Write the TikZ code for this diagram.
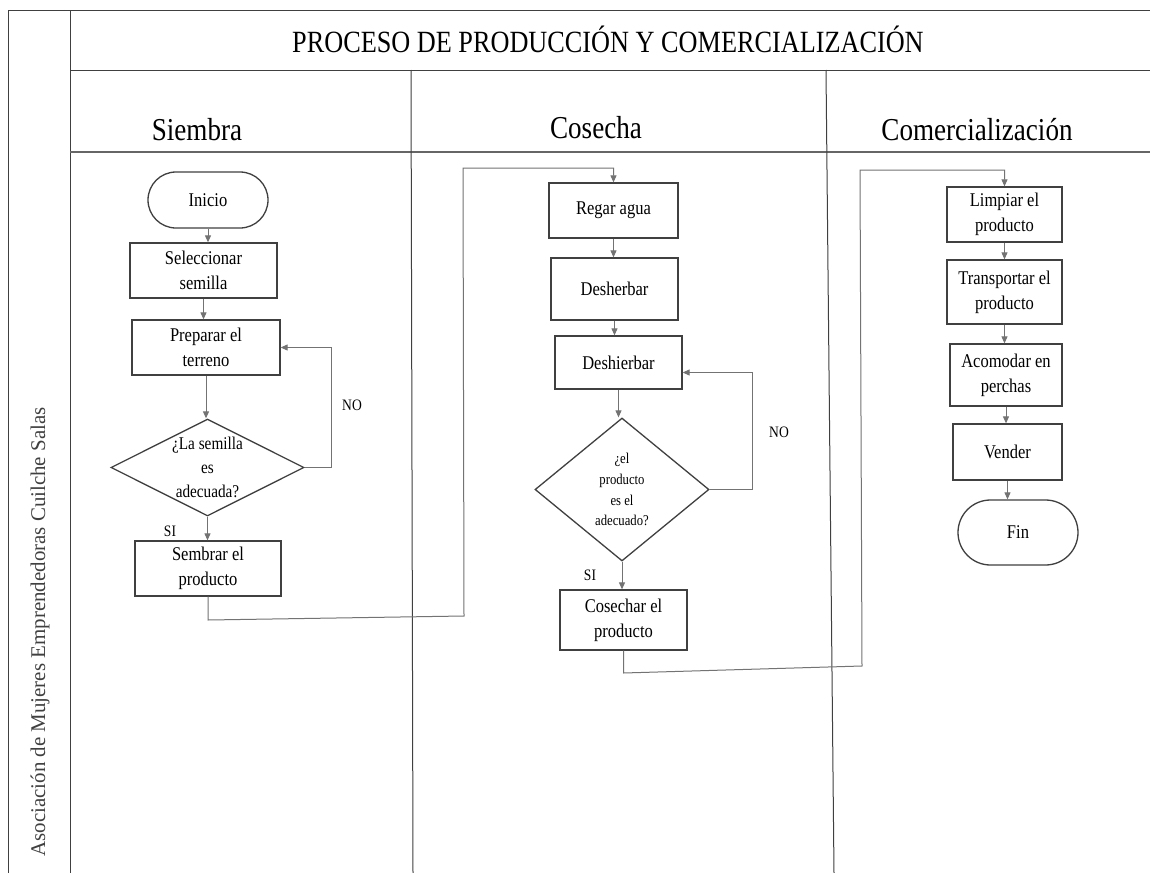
\documentclass[tikz,border=0pt]{standalone}
\usepackage{fontspec}
\setmainfont[FakeStretch=0.85]{Liberation Serif}
\newfontfamily\sidefont{Liberation Serif}
\usetikzlibrary{shapes.geometric,shapes.misc,arrows.meta}
\tikzset{
  lane/.style={draw=black!75, line width=1bp},
  sep/.style={draw=black!60, line width=2bp},
  box/.style={draw=black!75, line width=1.3bp, rectangle, inner sep=0pt, align=center,
    font=\fontsize{19.5}{25}\selectfont},
  term/.style={box, rounded rectangle},
  dec/.style={draw=black!75, line width=1.3bp, diamond, inner sep=0pt},
  conn/.style={draw=black!55, line width=1bp, -{Triangle[length=7bp,width=6bp]}},
  lbl/.style={font=\fontsize{16}{18}\selectfont},
  head/.style={font=\fontsize{32}{36}\selectfont}
}
\begin{document}
\begin{tikzpicture}[x=1bp,y=-1bp]
\useasboundingbox (0,0) rectangle (1150,873);
\fill[white] (0,0) rectangle (1150,873);
% frame
\draw[lane] (8,10) -- (1150,10);
\draw[lane] (8,10) -- (8,873);
\draw[lane] (70,10) -- (70,873);
\draw[lane] (70,70) -- (1150,70);
\draw[sep] (70,152) -- (1150,152);
\draw[lane] (411,70) -- (413,873);
\draw[lane] (826,70) -- (834,873);
% titles
\node[font=\fontsize{31}{34}\selectfont] (title) at (608,39) {PROCESO DE PRODUCCIÓN Y COMERCIALIZACIÓN};
\node[head] (h1) at (197,130) {Siembra};
\node[head] (h2) at (596,128) {Cosecha};
\node[head] (h3) at (977,130) {Comercialización};
\node[rotate=90, font=\sidefont\fontsize{21}{24}\selectfont, text=black!75] (org) at (40,632) {Asociación de Mujeres Emprendedoras Cuilche Salas};
% Siembra
\node[term, minimum width=120bp, minimum height=56bp] (ini) at (208,200) {Inicio};
\node[box, minimum width=147bp, minimum height=55bp] (sel) at (203.5,270.5) {Seleccionar\\semilla};
\node[box, minimum width=148bp, minimum height=55bp] (prep) at (206,347.5) {Preparar el\\terreno};
\node[dec, minimum width=193bp, minimum height=97bp,
  label={[align=center, font=\fontsize{18}{24}\selectfont]center:¿La semilla\\es\\adecuada?}] (d1) at (207.5,467.5) {};
\node[box, minimum width=146bp, minimum height=55bp] (semb) at (208,568.5) {Sembrar el\\producto};
\node[lbl] (no1) at (352,405) {NO};
\node[lbl] (si1) at (170,531) {SI};
% Cosecha
\node[box, minimum width=129bp, minimum height=55bp] (regar) at (613.5,210.5) {Regar agua};
\node[box, minimum width=127bp, minimum height=62bp] (desh1) at (614.5,289) {Desherbar};
\node[box, minimum width=127bp, minimum height=53bp] (desh2) at (618.5,362.5) {Deshierbar};
\node[dec, minimum width=174bp, minimum height=143bp,
  label={[align=center, font=\fontsize{15}{21}\selectfont]center:¿el\\producto\\es el\\adecuado?}] (d2) at (622,489.5) {};
\node[box, minimum width=127bp, minimum height=60bp] (cos) at (623.5,620) {Cosechar el\\producto};
\node[lbl] (no2) at (779,432) {NO};
\node[lbl] (si2) at (590,575) {SI};
% Comercializacion
\node[box, minimum width=115bp, minimum height=55bp] (limp) at (1004.5,214.5) {Limpiar el\\producto};
\node[box, minimum width=115bp, minimum height=64bp] (trans) at (1004.5,292) {Transportar el\\producto};
\node[box, minimum width=112bp, minimum height=62bp] (acom) at (1006,375) {Acomodar en\\perchas};
\node[box, minimum width=109bp, minimum height=56bp] (vend) at (1007.5,452) {Vender};
\node[term, minimum width=120bp, minimum height=65bp] (fin) at (1018,532.5) {Fin};
% connectors
\draw[conn] (ini.south) -- (ini.south |- sel.north);
\draw[conn] (sel.south) -- (sel.south |- prep.north);
\draw[conn] (prep.south) -- (prep.south |- d1.north);
\draw[conn] (d1.east) -- ++(27,0) |- (prep.east);
\draw[conn] (d1.south) -- (d1.south |- semb.north);
\coordinate (r1) at (464,616);
\coordinate (r2) at (463,168);
\draw[conn] (semb.south) -- (semb.south |- 0,620) -- (r1) -- (r2) -| (regar.north);
\draw[conn] (regar.south) -- (regar.south |- desh1.north);
\draw[conn] (desh1.south) -- (desh1.south |- desh2.north);
\draw[conn] (desh2.south) -- (desh2.south |- d2.north);
\draw[conn] (d2.east) -- ++(43,0) |- ([yshift=-10bp]desh2.east);
\draw[conn] (d2.south) -- (d2.south |- cos.north);
\coordinate (r3) at (862,666);
\coordinate (r4) at (860,170);
\draw[conn] (cos.south) -- (cos.south |- 0,673) -- (r3) -- (r4) -| (limp.north);
\draw[conn] (limp.south) -- (limp.south |- trans.north);
\draw[conn] (trans.south) -- (trans.south |- acom.north);
\draw[conn] (acom.south) -- (acom.south |- vend.north);
\draw[conn] (vend.south) -- (vend.south |- fin.north);
\end{tikzpicture}
\end{document}
